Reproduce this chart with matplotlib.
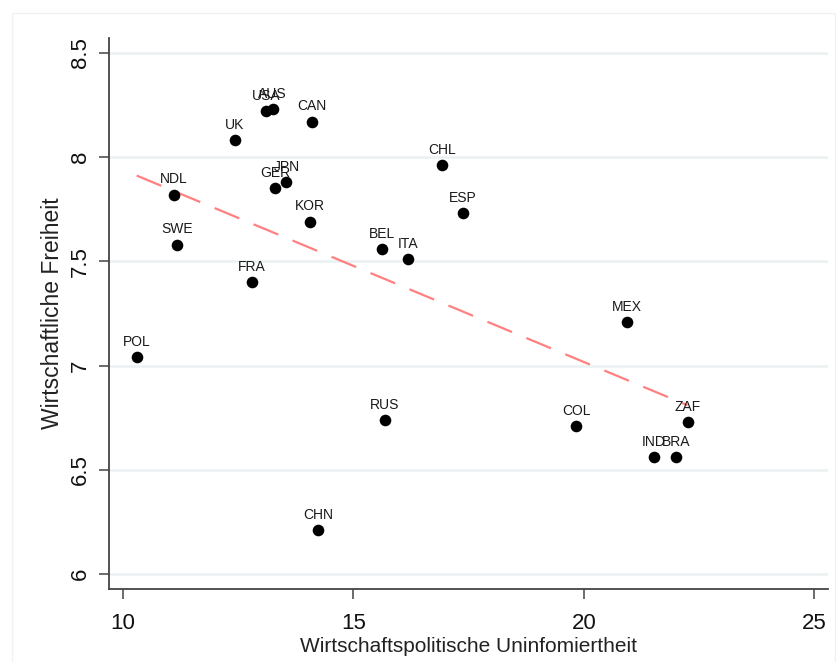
import matplotlib.pyplot as plt
import numpy as np
from matplotlib.patches import Rectangle

countries = ['POL', 'NDL', 'SWE', 'UK', 'USA', 'AUS', 'CAN', 'GER', 'JPN', 'KOR', 'FRA',
             'BEL', 'ITA', 'CHL', 'ESP', 'MEX', 'RUS', 'CHN', 'COL', 'ZAF', 'IND', 'BRA']
uninformiertheit = [10.30, 11.11, 11.18, 12.43, 13.10, 13.25, 14.11, 13.30, 13.55, 14.06, 12.80,
                    15.62, 16.18, 16.93, 17.37, 20.94, 15.68, 14.24, 19.84, 22.25, 21.52, 22.01]
freiheit = [7.04, 7.82, 7.58, 8.08, 8.22, 8.23, 8.17, 7.85, 7.88, 7.69, 7.40,
            7.56, 7.51, 7.96, 7.73, 7.21, 6.74, 6.21, 6.71, 6.73, 6.56, 6.56]

plt.rcParams['font.family'] = ['Liberation Sans', 'DejaVu Sans']

fig = plt.figure(figsize=(8.36, 6.62), dpi=100)
ax = fig.add_axes([0.1304, 0.1098, 0.8596, 0.8332])

# faint outer frame like the Stata graph region
fig.patches.append(Rectangle((0.014, -0.01), 0.985, 0.99, transform=fig.transFigure,
                             fill=False, edgecolor='#f0f2f3', linewidth=1.0))

x = np.array(uninformiertheit)
y = np.array(freiheit)

ax.scatter(x, y, s=70, color='black', zorder=3, linewidths=0)
for name, xi, yi in zip(countries, x, y):
    ax.annotate(name, (xi, yi), xytext=(0, 6), textcoords='offset points',
                ha='center', va='bottom', fontsize=10, color='#1a1a1a',
                family=['Liberation Sans Narrow', 'Liberation Sans', 'DejaVu Sans'])

# linear fit
m, b = np.polyfit(x, y, 1)
xs = np.array([x.min(), x.max()])
ax.plot(xs, m * xs + b, color='#ff8080', linewidth=1.6, dashes=(12, 7), zorder=2)

ax.set_xlim(9.70, 25.29)
ax.set_ylim(5.928, 8.572)
ax.set_xticks([10, 15, 20, 25])
ax.set_yticks([6, 6.5, 7, 7.5, 8, 8.5])
ax.set_yticklabels(['6', '6.5', '7', '7.5', '8', '8.5'], rotation=90, va='center')
ax.grid(axis='y', color='#eaf1f3', linewidth=1.8)
ax.set_axisbelow(True)

for s in ['top', 'right']:
    ax.spines[s].set_visible(False)
for s in ['left', 'bottom']:
    ax.spines[s].set_color('#444444')
    ax.spines[s].set_linewidth(1.3)

ax.tick_params(axis='both', direction='out', length=7, width=1.1, color='#444444',
               labelsize=16, labelcolor='#111111')
ax.tick_params(axis='x', pad=10)
ax.tick_params(axis='y', pad=6)

ax.set_xlabel('Wirtschaftspolitische Uninfomiertheit', fontsize=15, color='#222222')
ax.xaxis.set_label_coords(0.5, -0.086)
ax.set_ylabel('Wirtschaftliche Freiheit', fontsize=16.5, color='#222222', va='center')
ax.yaxis.set_label_coords(-0.078, 0.5)

plt.savefig('out.png', dpi=100)
plt.close()
